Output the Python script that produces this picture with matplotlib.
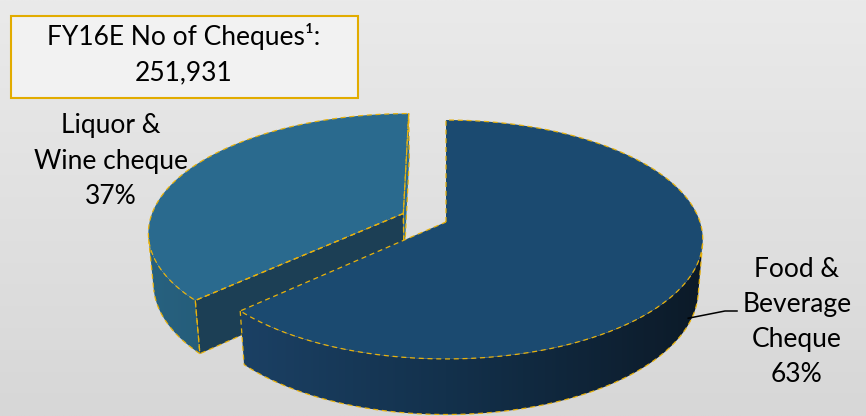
import numpy as np
import matplotlib
matplotlib.use('Agg')
import matplotlib.pyplot as plt
from matplotlib.patches import Polygon, Rectangle
from matplotlib.colors import to_rgb

# ---------------- data ----------------
categories = ['Food &\nBeverage\nCheque', 'Liquor &\nWine cheque']
shares = [63, 37]
box_title = 'FY16E No of Cheques\u00b9:'
box_value = '251,931'

# ---------------- style ----------------
top_colors = ['#1B4A70', '#2A6A8E']
wall_stops = [['#1D446A', '#13314C', '#0C1A28'],   # sin(theta) = -1, 0, 1
              ['#27617F', '#1F4F6A', '#163A50']]
cut_colors = [['#10263A', '#10263A'], ['#1C3F55', '#2A6A8E']]  # start-cut, end-cut
explode = [0.0, 0.185]
edge_color = '#E8B20C'
FONT = ['Lato', 'DejaVu Sans']

tilt = np.deg2rad(27.4)
S, C = np.sin(tilt), np.cos(tilt)
DIST = 6.83 * C
H = 0.225
SCALE, CX, CY = 254.0, 446.0, 222.0
W, HGT = 866, 416


def proj(u, v, z):
    yp = v * S + z * C
    d = v * C - z * S
    k = DIST / (DIST + d)
    return np.asarray(u) * k, np.asarray(yp) * k


def px(x, y):
    return (x - CX) / SCALE, (CY - y) / SCALE


def signed_area(xs, ys):
    return 0.5 * np.sum(xs * np.roll(ys, -1) - np.roll(xs, -1) * ys)


fig = plt.figure(figsize=(W / 100, HGT / 100), dpi=100)
ax_bg = fig.add_axes([0, 0, 1, 1])
grad = np.linspace(0, 1, 256)[:, None]
top_c, bot_c = np.array(to_rgb('#EAEAEA')), np.array(to_rgb('#D7D7D7'))
img = top_c[None, None, :] * (1 - grad[:, :, None]) + bot_c[None, None, :] * grad[:, :, None]
ax_bg.imshow(np.repeat(img, 4, axis=1), aspect='auto', extent=[0, 1, 0, 1])
ax_bg.axis('off')

ax = fig.add_axes([0, 0, 1, 1])
XL = (-CX / SCALE, (W - CX) / SCALE)
YL = ((CY - HGT) / SCALE, CY / SCALE)
ax.set_xlim(*XL)
ax.set_ylim(*YL)
ax.axis('off')
ax.patch.set_alpha(0)

total = float(sum(shares))
bounds = np.concatenate([[0], np.cumsum(shares)]) / total * 2 * np.pi

dash = (0, (4, 3))
edge_kw = dict(color=edge_color, lw=0.9, linestyle=dash)

order = [1, 0]   # back slice first
z0 = 0
for i in order:
    t1, t2 = bounds[i], bounds[i + 1]
    mid = 0.5 * (t1 + t2)
    ou, ov = explode[i] * np.sin(mid), explode[i] * np.cos(mid)
    th = np.linspace(t1, t2, 400)
    uu, vv = ou + np.sin(th), ov + np.cos(th)
    tx, ty = proj(uu, vv, 0)
    bx, by = proj(uu, vv, -H)
    cx_, cy_ = proj(ou, ov, 0)
    # outer wall: visible (front-facing) part
    vis = np.zeros(len(th) - 1, bool)
    for j in range(len(th) - 1):
        qx = np.array([tx[j], tx[j + 1], bx[j + 1], bx[j]])
        qy = np.array([ty[j], ty[j + 1], by[j + 1], by[j]])
        vis[j] = signed_area(qx, qy) > 0
    if vis.any():
        idx = np.where(vis)[0]
        a, b = idx[0], idx[-1] + 1
        wx = np.concatenate([tx[a:b + 1], bx[a:b + 1][::-1]])
        wy = np.concatenate([ty[a:b + 1], by[a:b + 1][::-1]])
        wall = Polygon(np.column_stack([wx, wy]), closed=True, facecolor='none',
                       edgecolor='none', zorder=z0 + 1)
        ax.add_patch(wall)
        stops = np.array([to_rgb(c) for c in wall_stops[i]])
        xs = np.linspace(XL[0], XL[1], 600)
        sv = np.clip((xs - cx_) / 1.0, -1, 1)
        grad_w = np.stack([np.interp(sv, [-1, 0, 1], stops[:, j]) for j in range(3)], axis=-1)
        im = ax.imshow(np.repeat(grad_w[None, :, :], 2, axis=0), extent=[XL[0], XL[1], YL[0], YL[1]],
                       aspect='auto', zorder=z0 + 1, interpolation='bilinear')
        im.set_clip_path(wall)
        ax.plot(bx[a:b + 1], by[a:b + 1], zorder=z0 + 4, **edge_kw)
        ax.plot([tx[a], bx[a]], [ty[a], by[a]], zorder=z0 + 4, **edge_kw)
        ax.plot([tx[b], bx[b]], [ty[b], by[b]], zorder=z0 + 4, **edge_kw)
    # radial cut faces
    for k, (ang, ccol) in enumerate(zip([t1, t2], cut_colors[i])):
        eu, ev = ou + np.sin(ang), ov + np.cos(ang)
        qx, qy = proj(np.array([ou, eu, eu, ou]), np.array([ov, ev, ev, ov]),
                      np.array([0, 0, -H, -H]))
        sa = signed_area(qx, qy)
        if (k == 0 and sa > 1e-4) or (k == 1 and sa < -1e-4):
            ax.add_patch(Polygon(np.column_stack([qx, qy]), closed=True,
                                 facecolor=ccol, edgecolor='none', zorder=z0 + 2))
            ax.plot(np.append(qx, qx[0]), np.append(qy, qy[0]), zorder=z0 + 4, **edge_kw)
    # top face
    polx = np.concatenate([[cx_], tx, [cx_]])
    poly = np.concatenate([[cy_], ty, [cy_]])
    ax.add_patch(Polygon(np.column_stack([polx, poly]), closed=True,
                         facecolor=top_colors[i], edgecolor='none', zorder=z0 + 3))
    ax.plot(polx, poly, zorder=z0 + 4, **edge_kw)
    z0 += 10

# leader line for Food & Beverage label (starts on the outer wall)
ang_lead = bounds[0] + 2.0
lx, ly = proj(np.sin(ang_lead), np.cos(ang_lead), -0.85 * H)
ax.plot([lx, px(725, 311)[0], px(737, 311)[0]], [ly, px(725, 311)[1], px(737, 311)[1]],
        color='black', lw=1.1, zorder=30)

# labels
fs = 19
ls = 1.5
ax.text(*px(797, 322), f'{categories[0]}\n{shares[0]}%', ha='center', va='center',
        fontsize=fs, family=FONT, linespacing=ls, zorder=30)
ax.text(*px(111, 161), f'{categories[1]}\n{shares[1]}%', ha='center', va='center',
        fontsize=fs, family=FONT, linespacing=ls, zorder=30)

# info box
bx0, by0 = px(11, 98)
ax.add_patch(Rectangle((bx0, by0), 347 / SCALE, 82 / SCALE, facecolor='#F2F2F2',
                       edgecolor='#E2AC00', lw=1.5, zorder=40))
ax.text(*px(184, 54), f'{box_title}\n{box_value}', ha='center', va='center',
        fontsize=fs, family=FONT, linespacing=ls, zorder=41)

fig.savefig('out.png', dpi=100)
